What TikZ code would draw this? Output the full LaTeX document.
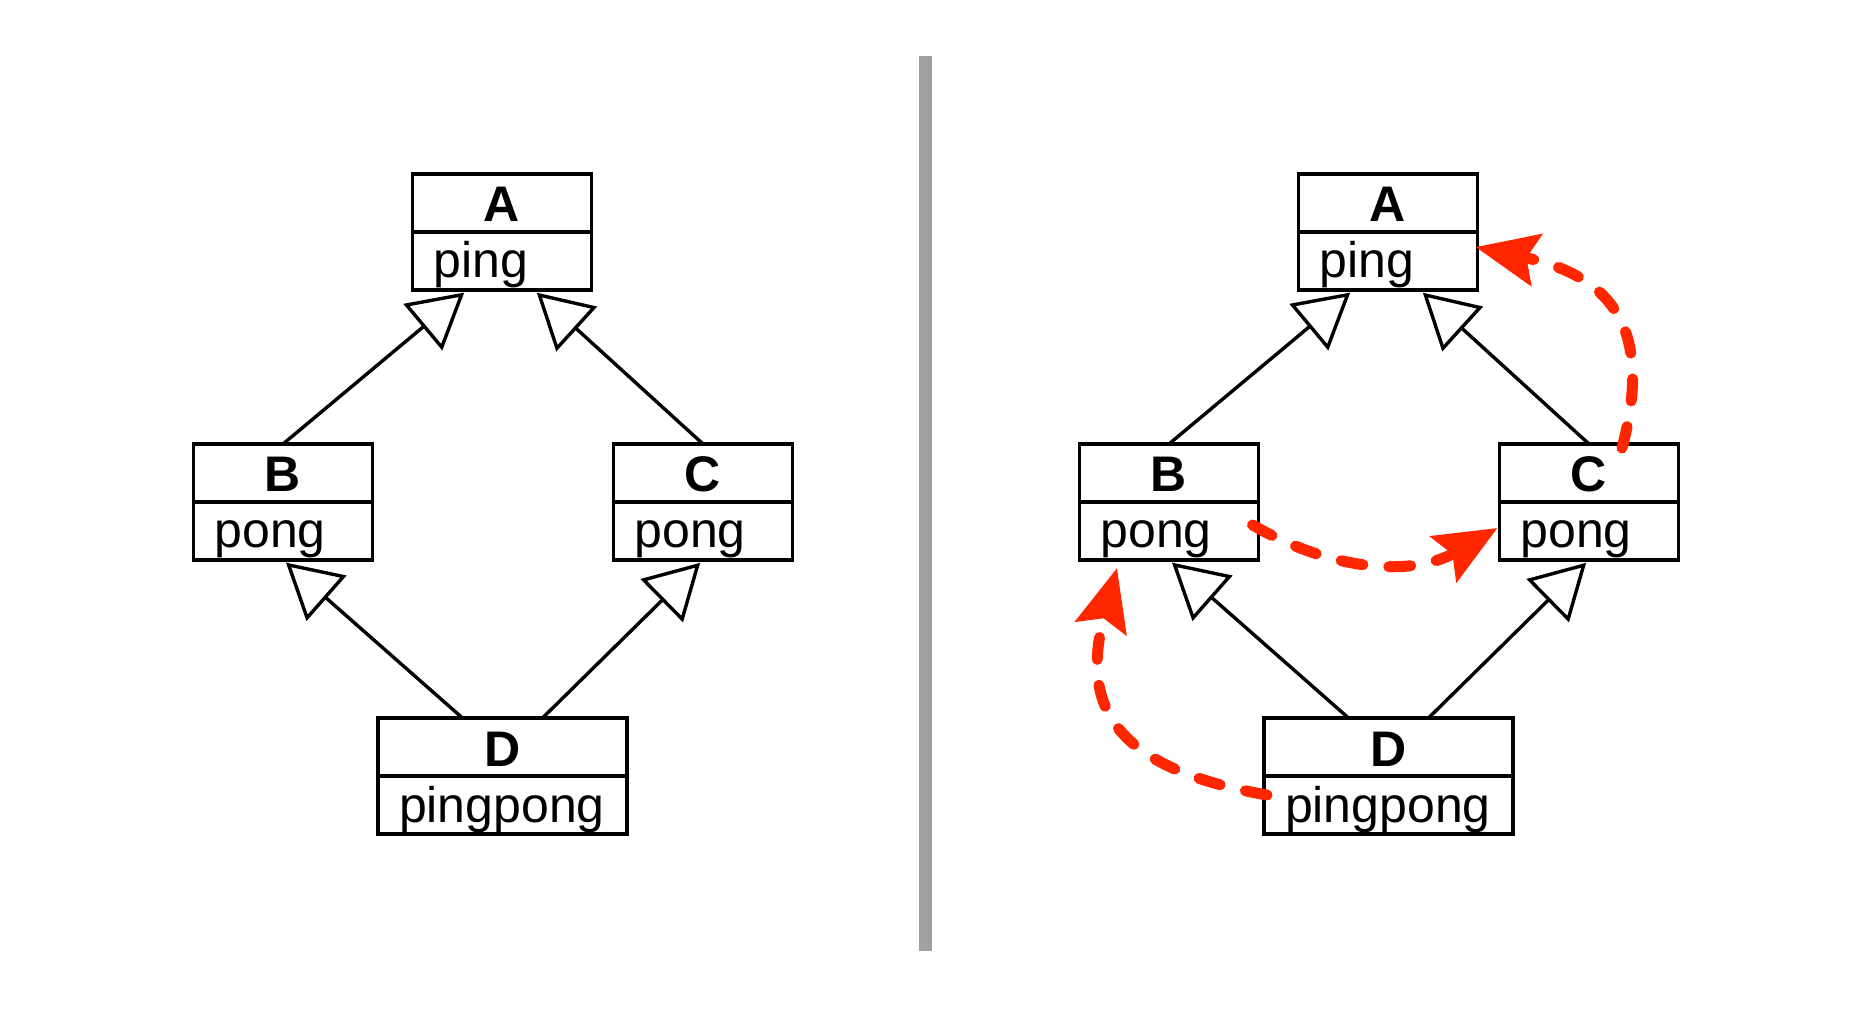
\documentclass[tikz,border=0pt]{standalone}
\usepackage{fontspec}
\setmainfont{Liberation Sans}
\usepackage{tikz}
\usetikzlibrary{arrows.meta,calc}
\definecolor{linkred}{RGB}{255,38,0}
\definecolor{sepgray}{RGB}{160,160,160}
\tikzstyle{classtitle}=[draw, line width=1.7pt, outer sep=0pt, minimum width=89.5pt, minimum height=29pt, inner sep=0pt, text height=19pt, text depth=0pt, font=\fontsize{25pt}{29pt}\selectfont\bfseries]
\tikzstyle{classbody}=[draw, line width=1.7pt, outer sep=0pt, anchor=north, minimum height=29pt, inner xsep=10.5pt, inner ysep=0pt, text height=17pt, text depth=0pt, align=left, text width=68.5pt, font=\fontsize{25pt}{29pt}\selectfont]
\tikzstyle{generalization}=[line width=1.7pt, shorten >=2pt, -{Triangle[open, length=27pt, width=30pt]}]
\tikzstyle{override}=[line width=5.5pt, linkred, line cap=round, dash pattern=on 11pt off 13pt, -{Stealth[length=31pt, width=26pt, inset=5pt]}]
\newcommand{\classtitle}{\node[classtitle]}
\newcommand{\classbody}{\node[classbody]}

\begin{document}
\begin{tikzpicture}[x=0.5pt, y=0.5pt]
	\useasboundingbox (0,0) rectangle (1870,1008);
	%% Left half: the plain diamond. Each class is a title node (t)
	%% with its body node (b) hung below it.
	\classtitle (lAt) at (502,805) {A};
	\classbody (lAb) at (lAt.south) {ping};
	\classtitle (lBt) at (283,535) {B};
	\classbody (lBb) at (lBt.south) {pong};
	\classtitle (lCt) at (703,535) {C};
	\classbody (lCb) at (lCt.south) {pong};
	\classtitle[minimum width=124.5pt] (lDt) at (502.5,261) {D};
	\classbody[text width=103.5pt] (lDb) at (lDt.south) {pingpong};
	\draw[generalization] (lBt.north) -- (lAb);
	\draw[generalization] (lCt.north) -- (lAb);
	\draw[generalization] ($(lDt.north)+(-40,0)$) -- (lBb.south);
	\draw[generalization] ($(lDt.north)+(40,0)$) -- (lCb.south);

	%% The grey bar between the two halves.
	\draw[sepgray, line width=6.5pt] (925.5,952) -- (925.5,57.5);

	%% Right half: the same diamond, shifted by 886.
	\classtitle (rAt) at (1388,805) {A};
	\classbody (rAb) at (rAt.south) {ping};
	\classtitle (rBt) at (1169,535) {B};
	\classbody (rBb) at (rBt.south) {pong};
	\classtitle (rCt) at (1589,535) {C};
	\classbody (rCb) at (rCt.south) {pong};
	\classtitle[minimum width=124.5pt] (rDt) at (1388.5,261) {D};
	\classbody[text width=103.5pt] (rDb) at (rDt.south) {pingpong};
	\draw[generalization] (rBt.north) -- (rAb);
	\draw[generalization] (rCt.north) -- (rAb);
	\draw[generalization] ($(rDt.north)+(-40,0)$) -- (rBb.south);
	\draw[generalization] ($(rDt.north)+(40,0)$) -- (rCb.south);
	% red dashed lookups
	\draw[override] ($(rBb.east)+(-6,6)$) to[out=-30, in=210] ($(rCb.west)+(-2,3)$);
	\draw[override] ($(rDb.west)+(3,10)$) to[out=170, in=255, looseness=1.4] ($(rBb.south)+(-52,-8)$);
	\draw[override] ($(rCt.north)+(33,-4)$) to[out=75, in=-12, looseness=1.35] ($(rAb.east)+(-2,14)$);
\end{tikzpicture}
\end{document}
